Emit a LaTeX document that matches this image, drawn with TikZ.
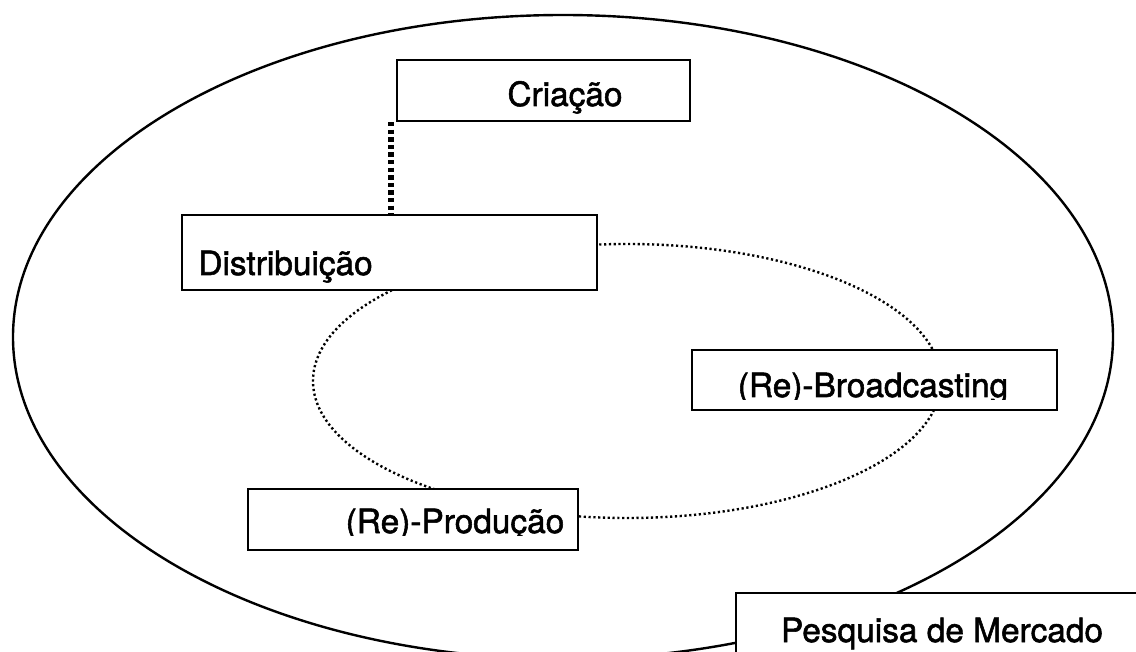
\documentclass[tikz,border=0pt]{standalone}
\usepackage{fontspec}
\setmainfont[FakeBold=1.6]{TeX Gyre Heros}
\begin{document}
\begin{tikzpicture}[x=0.5pt,y=-0.5pt,
 box/.style={draw=black, line width=1.1pt, fill=white, rectangle, inner sep=0pt},
 lbl/.style={font=\fontsize{16.7}{18}\selectfont, inner sep=0pt, anchor=base},
 bigell/.style={draw=black, line width=1.2pt},
 thindot/.style={line width=1.2pt, dash pattern=on 1.1pt off 1.3pt},
 thickdot/.style={line width=2.6pt, dash pattern=on 2.2pt off 1.6pt}]
\useasboundingbox (0,0) rectangle (1136,652);
\clip (0,0) rectangle (1136,652);
\fill[white] (0,0) rectangle (1136,652);
\coordinate (oc) at (563,337);
\coordinate (ic) at (627,381);
\draw[bigell] (oc) ellipse [x radius=275pt, y radius=161pt];
\draw[thindot] (ic) ellipse [x radius=157pt, y radius=68.5pt];
\node[box, minimum width=146.5pt, minimum height=30.5pt] (cria) at (543.5,90.5) {};
\node[box, minimum width=207.5pt, minimum height=37.5pt] (dist) at (389.5,252.5) {};
\node[box, minimum width=182.5pt, minimum height=30pt] (broad) at (874.5,380) {};
\node[box, minimum width=165pt, minimum height=30.5pt] (prod) at (413,519.5) {};
\node[box, minimum width=212pt, minimum height=56pt] (pesq) at (948,649) {};
\draw[thickdot] ([xshift=-2.5pt]cria.south west) -- ([xshift=-2.5pt]cria.south west |- dist.north);
\node[lbl] (tcria) at (565,106) {Criação};
\node[lbl, anchor=base west] (tdist) at (198,275) {Distribuição};
\begin{scope}
\clip (692,350) rectangle (1057,400);
\node[lbl] (tbroad) at (873,397) {(Re)-Broadcasting};
\end{scope}
\begin{scope}
\clip (248,489) rectangle (578,535);
\node[lbl] (tprod) at (455,533) {(Re)-Produção};
\end{scope}
\node[lbl] (tpesq) at (942,642) {Pesquisa de Mercado};
\end{tikzpicture}
\end{document}
